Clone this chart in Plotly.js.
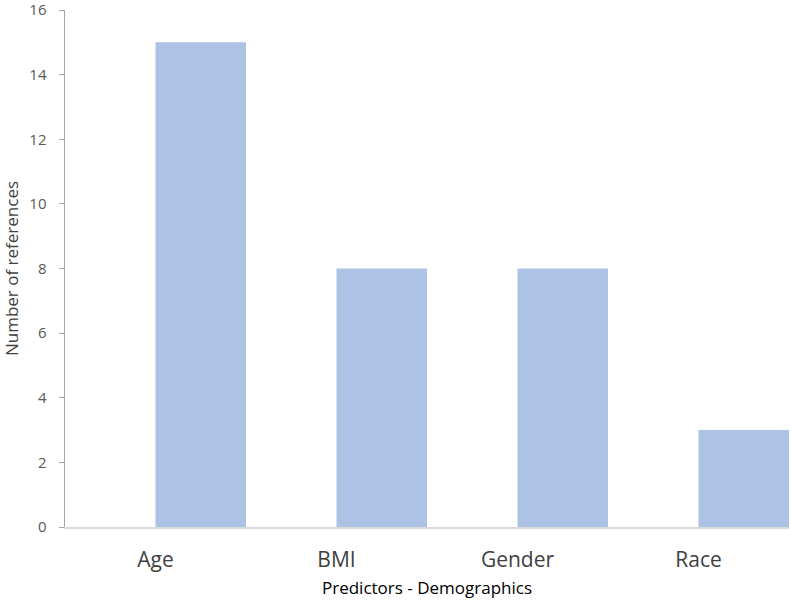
<!DOCTYPE html>
<html>
<head>
<meta charset="utf-8">
<script src="https://cdn.plot.ly/plotly-3.0.1.min.js"></script>
<style>html,body{margin:0;padding:0;background:#fff;}#chart{width:791px;height:605px;}</style>
</head>
<body>
<div id="chart"></div>
<script>
const categories = ["Age", "BMI", "Gender", "Race"];
const references = [15, 8, 8, 3];
const yTicks = [0, 2, 4, 6, 8, 10, 12, 14, 16];

const trace = {
  type: "bar",
  x: categories,
  y: references,
  offset: 0,
  width: 0.5,
  marker: { color: "#adc3e5", line: { width: 0 } },
  hoverinfo: "x+y"
};

const layout = {
  width: 791,
  height: 605,
  margin: { l: 65, r: 2, t: 10, b: 78 },
  paper_bgcolor: "#ffffff",
  plot_bgcolor: "#ffffff",
  showlegend: false,
  font: { family: "Open Sans, sans-serif", color: "#404040" },
  xaxis: {
    type: "category",
    range: [-0.5, 3.5],
    showline: true,
    linecolor: "#d9d9d9",
    linewidth: 1.5,
    ticks: "",
    showgrid: false,
    zeroline: false,
    tickfont: { size: 21, color: "#404040" },
    ticklabelstandoff: 13,
    title: { text: "Predictors - Demographics", font: { size: 17, color: "#000000" }, standoff: 10 }
  },
  yaxis: {
    range: [0, 16],
    tickvals: yTicks,
    ticktext: yTicks.map(String),
    ticklabeloverflow: "allow",
    showline: true,
    linecolor: "#a6a6a6",
    linewidth: 1.5,
    ticks: "outside",
    ticklen: 5,
    tickcolor: "#a6a6a6",
    showgrid: false,
    zeroline: false,
    tickfont: { size: 15, color: "#595959" },
    ticklabelstandoff: 9,
    title: { text: "Number of references", font: { size: 17, color: "#404040" }, standoff: 9 }
  }
};

Plotly.newPlot("chart", [trace], layout, { displayModeBar: false, staticPlot: true });
</script>
</body>
</html>
